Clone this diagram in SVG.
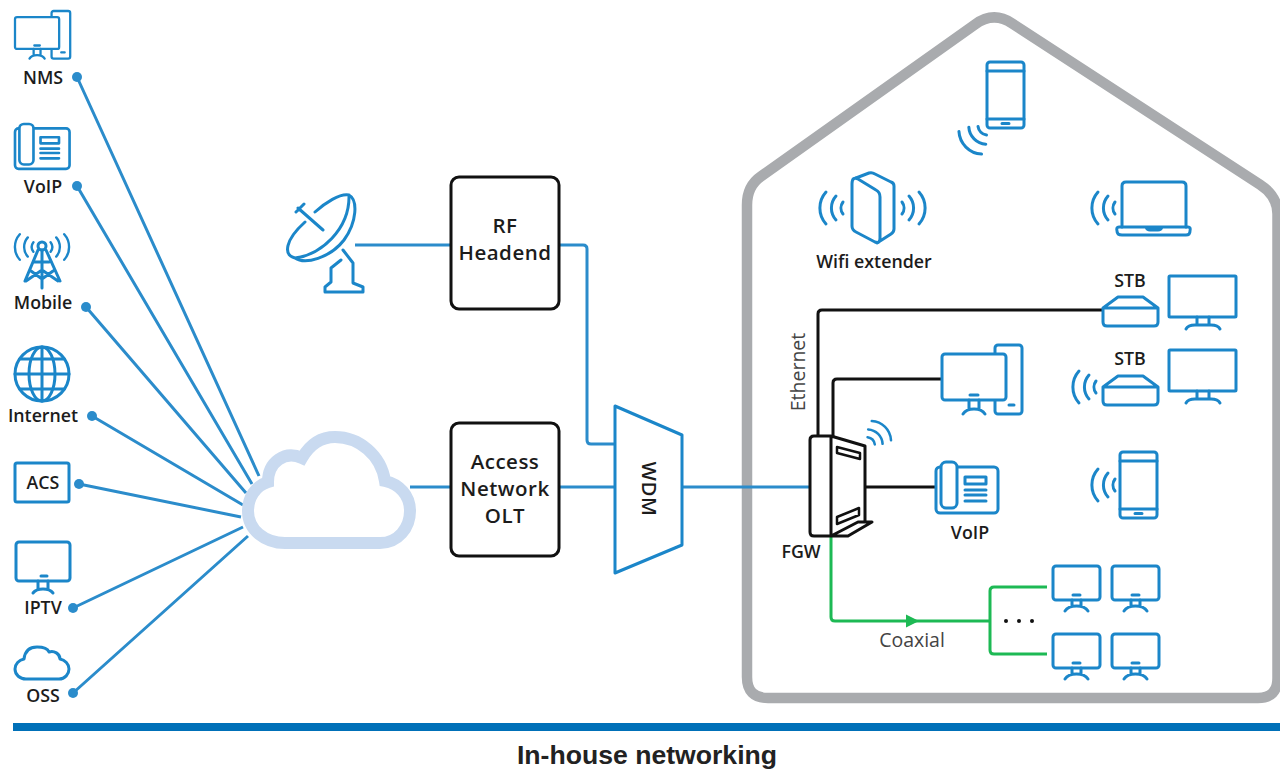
<svg xmlns="http://www.w3.org/2000/svg" width="1280" height="769" viewBox="0 0 1280 769">
<style>
text{font-family:"Open Sans","Liberation Sans",sans-serif;font-weight:600;fill:#1c1c1c;text-anchor:middle}
.l{font-size:17.800px}
.b{font-size:20.500px;letter-spacing:.5px}
.t{font-weight:400;font-size:19.500px;fill:#444}
.i{fill:none;stroke:#1b86c9;stroke-width:3;stroke-linecap:round;stroke-linejoin:round}
.c{fill:none;stroke:#2b8ccb;stroke-width:3}
.k{fill:none;stroke:#111;stroke-width:3;stroke-linejoin:round}
.g{fill:none;stroke:#1db954;stroke-width:3;stroke-linejoin:round}
.box{fill:#fff;stroke:#111;stroke-width:3}
</style>
<defs>
<g id="wifi"><path d="M6-16A24 24 0 0 0 6 16M16-12A18 18 0 0 0 16 12M23-6A10 10 0 0 0 23 6"/></g>
<g id="pc"><rect x="53" y="0" width="27" height="69" rx="3"/><rect x="0" y="9" width="64" height="46" rx="3" fill="#fff"/><path d="M28 50H36M27 55V64M37 55V64M21 69Q24 64 32 64Q40 64 43 69M67 60H72"/></g>
<g id="mon"><rect x="0" y="0" width="47" height="34" rx="3"/><path d="M20 29H27M19 34V40M28 34V40M12 45Q15 40 23.500 40Q32 40 35 45"/></g>
<g id="tv"><rect x="0" y="0" width="67" height="41" rx="1"/><path d="M28 41V49M40 41V49M17 53Q19 49 26 49H42Q49 49 51 53"/></g>
<g id="desk"><rect x="0" y="5" width="62" height="46" rx="4"/><rect x="5" y="0" width="16" height="46" rx="5" fill="#fff"/><rect x="29" y="15" width="21" height="7"/><path d="M29 28H50M29 33H50M29 39H50"/></g>
<g id="phone"><rect x="0" y="0" width="37" height="66" rx="3"/><path d="M0 9H37M0 57H37M15 61.500H22"/></g>
<g id="stb"><path d="M0 11L15 0H40L55 11V25Q55 29 51 29H4Q0 29 0 25ZM0 11H55"/></g>
</defs>

<path id="house" d="M747 205Q747 186 761 176.400L975 24.500Q993.500 11 1012 23.400L1260 184.600Q1277.500 196 1277.500 214V678Q1277.500 698 1258 698H768Q747 698 747 677Z" fill="none" stroke="#a9abae" stroke-width="10.500"/>
<rect id="baseline" x="13" y="723" width="1267" height="8" fill="#0070b8"/>

<g id="connectors">
<path class="c" d="M77 77L259 476M77 186L252 484M86 307L246 493M92 416L243 505M79 484L241 517M73 608L243 527M73 693L248 536"/>
<path class="c" d="M355 245H451M559 245H583Q587 245 587 249V440Q587 444 591 444H615M410 487H451M559 487H615M682 487H810"/>
<path class="k" d="M818 436V314Q818 310 822 310H1103M833 436V383Q833 379 837 379H942M865 487H936"/>
<path class="g" d="M831 536V617Q831 621 835 621H990M1047 587H994Q990 587 990 591V650Q990 654 994 654H1047"/>
<path d="M906 614.500L919 621L906 627.500Z" fill="#1db954"/>
</g>

<g fill="#2b8ccb">
<circle cx="77" cy="77" r="5"/><circle cx="77" cy="186" r="5"/><circle cx="86" cy="307" r="5"/><circle cx="92" cy="416" r="5"/><circle cx="79" cy="484" r="5"/><circle cx="73" cy="608" r="5"/><circle cx="73" cy="693" r="5"/>
</g>

<g id="nms" class="i"><use href="#pc" transform="translate(15 11) scale(.69)" stroke-width="3.300"/></g>
<text class="l" x="43" y="84">NMS</text>
<g id="voip-left" class="i"><use href="#desk" transform="translate(15 124) scale(.88)" stroke-width="3"/></g>
<text class="l" x="43" y="193">VoIP</text>
<g id="mobile" class="i" stroke-width="2.500">
<use href="#wifi" transform="translate(15 247) scale(.8)"/><use href="#wifi" transform="translate(69 247) scale(-.8 .8)"/>
<circle cx="42" cy="246" r="4"/><path d="M38 250L25 281M46 250L60 281M42 250V288M35 262L49 262M31 271L42 279L53 271M26 281L42 270L58 281"/></g>
<text class="l" x="43" y="309">Mobile</text>
<g id="internet" class="i"><circle cx="42" cy="374" r="27"/><ellipse cx="42" cy="374" rx="13" ry="27"/><path d="M42 347V401M15 374H69M20 359H64M20 389H64"/></g>
<text class="l" x="43" y="422">Internet</text>
<g id="acs" class="i"><rect x="15" y="463" width="54" height="39" rx="2"/></g>
<text class="l" x="43" y="489">ACS</text>
<g id="iptv" class="i" stroke-width="2.500"><rect x="16" y="542" width="54" height="39" rx="3"/><path d="M41 576H47M38 581V589M48 581V589M33 593Q36 589 43 589Q50 589 53 593"/></g>
<text class="l" x="43" y="614">IPTV</text>
<g id="oss" class="i" stroke-width="2.500"><path d="M26 679H59C65 679 69 674 69 669C69 664 65 660 60 659C60 654 54 650 49 652C47 647 41 647 37 647C30 647 25 651 24 659C19 660 15 664 15 669C15 675 20 679 26 679Z"/></g>
<text class="l" x="43" y="702">OSS</text>

<g id="cloud"><path d="M285 543H380C398 543 410 528 410 511C410 495 399 484 385 481C381 455 359 437 335 437C320 437 309 446 302 458C285 450 268 462 268 482C255 486 248 498 248 511C248 530 265 543 285 543Z" fill="#fff" stroke="#c9daf0" stroke-width="12"/></g>

<g id="dish" class="i"><path d="M315 212C325 203 340 193 349 195C358 200 357 222 344 240C330 258 305 265 295 258C283 255 285 240 305 222M295 258C320 255 350 230 349 195M298 208L323 230M296 212L304 204M343 250L353 263V283L363 287V292H325V287L331 282V268L341 260"/></g>

<g id="rf"><rect class="box" x="451" y="177" width="108" height="132" rx="8"/><text class="b" x="505" y="233">RF</text><text class="b" x="505" y="260">Headend</text></g>
<g id="olt"><rect class="box" x="451" y="423" width="108" height="133" rx="8"/><text class="b" x="505" y="469">Access</text><text class="b" x="505" y="496">Network</text><text class="b" x="505" y="523">OLT</text></g>
<g id="wdm"><path d="M615 406L682 435V545L615 573Z" fill="#fff" stroke="#1b86c9" stroke-width="3" stroke-linejoin="round"/><text class="b" transform="translate(642 489) rotate(90)">WDM</text></g>

<g id="phone-top" class="i"><use href="#phone" x="987" y="62"/><use href="#wifi" transform="translate(966 147) rotate(-45)"/></g>
<g id="extender" class="i"><path d="M852 184V226Q852 230 856 232L875 242Q880 244 880 238V197Q880 192 876 190L858 179Q852 176 852 184ZM856 178L869 173Q872 172 875 174L891 182Q894 183 894 186V229Q894 232 891 234L877 243"/><use href="#wifi" transform="translate(820 208)"/><use href="#wifi" transform="translate(925 208) scale(-1 1)"/></g>
<text class="l" x="874" y="268">Wifi extender</text>
<g id="laptop" class="i"><path d="M1122 227V186Q1122 182 1126 182H1182Q1186 182 1186 186V227"/><path d="M1119 227H1188Q1191 227 1190 231Q1190 235 1186 235H1122Q1117 235 1117 231Q1116 227 1119 227ZM1146 227Q1147 230 1150 230H1158Q1161 230 1162 227"/><use href="#wifi" transform="translate(1092 208)"/></g>
<g id="stb1" class="i"><use href="#stb" x="1103" y="297"/><use href="#tv" x="1169" y="276"/></g>
<text class="l" x="1130" y="287">STB</text>
<g id="stb2" class="i"><use href="#stb" x="1103" y="376"/><use href="#tv" x="1169" y="350"/><use href="#wifi" transform="translate(1073 387)"/></g>
<text class="l" x="1130" y="365">STB</text>
<g id="pc-house" class="i"><use href="#pc" x="942" y="345"/></g>
<g id="phone-right" class="i"><use href="#phone" x="1120" y="452"/><use href="#wifi" transform="translate(1092 485)"/></g>
<g id="voip-house" class="i"><use href="#desk" x="936" y="462"/></g>
<text class="l" x="970" y="539">VoIP</text>

<g id="fgw">
<path d="M814 436H831L865 446V522L848 536H814Q810 536 810 532V440Q810 436 814 436Z" fill="#fff"/>
<path d="M831 436L865 446V522M831 536L858 522H872L848 536H814Q810 536 810 532V440Q810 436 814 436H831V536" fill="none" stroke="#111" stroke-width="3" stroke-linejoin="round"/>
<path d="M837 447L860 453V459L837 453ZM837 517L859 508V515L837 524Z" fill="#fff" stroke="#111" stroke-width="2.500" stroke-linejoin="round"/>
</g>
<use class="i" href="#wifi" transform="translate(885 427) rotate(135) scale(.85)"/>
<text class="l" x="801" y="558">FGW</text>
<text class="t" transform="translate(805 372) rotate(-90)">Ethernet</text>
<text class="t" x="912" y="647">Coaxial</text>
<g id="dots" fill="#111"><circle cx="1006" cy="621" r="2"/><circle cx="1019" cy="621" r="2"/><circle cx="1032" cy="621" r="2"/></g>
<g id="tvs" class="i"><use href="#mon" x="1053" y="566"/><use href="#mon" x="1112" y="566"/><use href="#mon" x="1053" y="634"/><use href="#mon" x="1112" y="634"/></g>

<text x="647" y="764" style="font-family:'Liberation Sans',Arial,sans-serif;font-weight:700;font-size:26.600px;fill:#222">In-house networking</text>
</svg>
